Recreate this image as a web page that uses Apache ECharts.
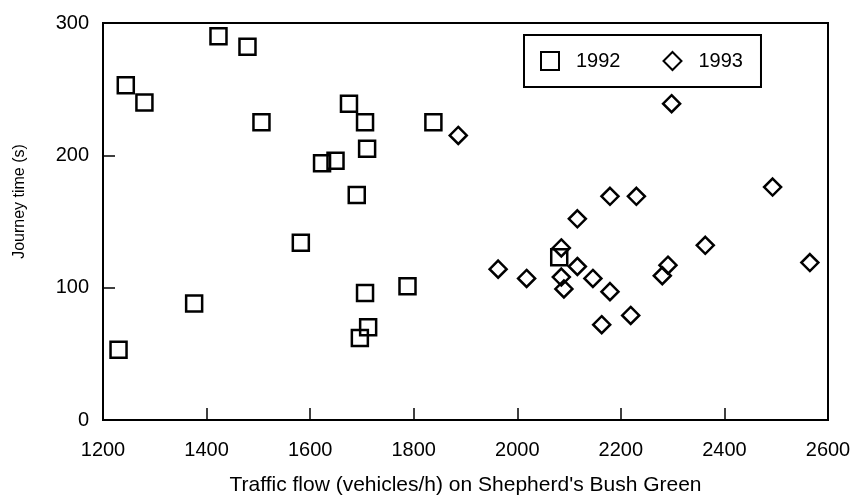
<!DOCTYPE html>
<html>
<head>
<meta charset="UTF-8">
<title>Journey time vs traffic flow</title>
<script src="https://cdn.jsdelivr.net/npm/echarts@6/dist/echarts.min.js"></script>
<style>
    html, body { margin: 0; padding: 0; background: #fff; }
    #chart { width: 853px; height: 498px; }
</style>
</head>
<body>
<div id="chart"></div>
<script>
    // readings from the picture: [traffic flow, journey time]
    var flow1992 = [1230, 1244, 1280, 1376, 1423, 1479, 1506, 1582, 1623, 1649, 1675, 1690, 1696, 1706, 1706, 1710, 1712, 1788, 1838, 2081];
    var time1992 = [53, 253, 240, 88, 290, 282, 225, 134, 194, 196, 239, 170, 62, 225, 96, 205, 70, 101, 225, 123];
    var flow1993 = [1886, 1963, 2018, 2085, 2085, 2090, 2116, 2116, 2146, 2163, 2179, 2179, 2219, 2230, 2280, 2291, 2298, 2363, 2493, 2565];
    var time1993 = [215, 114, 107, 130, 108, 99, 152, 116, 107, 72, 97, 169, 79, 169, 109, 117, 239, 132, 176, 119];
    var seriesNames = ['1992', '1993'];

    function pairs(xs, ys) {
        return xs.map(function (x, i) { return [x, ys[i]]; });
    }

    var font = 'Liberation Sans, Arial, sans-serif';
    var chart = echarts.init(document.getElementById('chart'));

    var option = {
        animation: false,
        backgroundColor: '#fff',
        grid: {
            left: 103, right: 25, top: 23, bottom: 78,
            outerBoundsMode: 'none',
            show: true,
            borderColor: '#000',
            borderWidth: 2,
            backgroundColor: 'transparent'
        },
        legend: {
            left: 524, top: 35,
            orient: 'horizontal',
            padding: [16, 18, 16, 16],
            borderColor: '#000',
            borderWidth: 2,
            itemWidth: 18, itemHeight: 18,
            itemGap: 42,
            selectedMode: false,
            textStyle: { fontFamily: font, fontSize: 20, color: '#000', padding: [0, 0, 0, 12] },
            data: [
                { name: seriesNames[0], icon: 'rect' },
                { name: seriesNames[1], icon: 'diamond' }
            ]
        },
        xAxis: {
            type: 'value',
            min: 1200, max: 2600, interval: 200,
            name: "Traffic flow (vehicles/h) on Shepherd's Bush Green",
            nameLocation: 'middle',
            nameGap: 55,
            nameTextStyle: { fontFamily: font, fontSize: 21, color: '#000' },
            axisLine: { lineStyle: { color: '#000', width: 2 } },
            axisTick: { inside: true, length: 12, lineStyle: { color: '#000', width: 1.5 } },
            axisLabel: {
                margin: 20, fontFamily: font, fontSize: 20, color: '#000',
                formatter: function (v) { return String(v); }
            },
            splitLine: { show: false }
        },
        yAxis: {
            type: 'value',
            min: 0, max: 300, interval: 100,
            name: 'Journey time (s)',
            nameLocation: 'middle',
            nameGap: 75,
            nameTextStyle: { fontFamily: font, fontSize: 16, color: '#000', padding: [0, 0, 0, 40] },
            axisLine: { lineStyle: { color: '#000', width: 2 } },
            axisTick: { inside: true, length: 12, lineStyle: { color: '#000', width: 1.5 } },
            axisLabel: { margin: 14, fontFamily: font, fontSize: 20, color: '#000' },
            splitLine: { show: false }
        },
        series: [
            {
                name: seriesNames[0],
                type: 'scatter',
                symbol: 'rect',
                symbolSize: 16,
                itemStyle: { color: 'rgba(255,255,255,0)', borderColor: '#000', borderWidth: 2.5, opacity: 1 },
                data: pairs(flow1992, time1992)
            },
            {
                name: seriesNames[1],
                type: 'scatter',
                symbol: 'diamond',
                symbolSize: 17,
                itemStyle: { color: 'rgba(255,255,255,0)', borderColor: '#000', borderWidth: 2.5, opacity: 1 },
                data: pairs(flow1993, time1993)
            }
        ]
    };
    chart.setOption(option);
</script>
</body>
</html>
